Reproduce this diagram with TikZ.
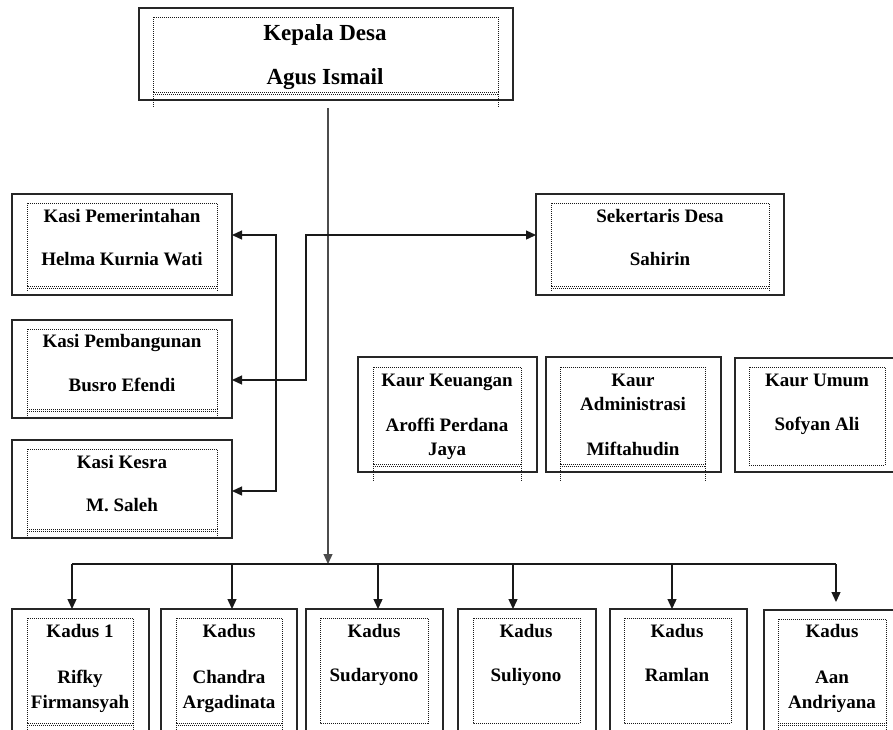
\documentclass[tikz,border=0pt]{standalone}
\usepackage{fontspec}
\setmainfont{Liberation Serif}
\usetikzlibrary{fit,arrows.meta}
\tikzset{
  outerbox/.style={draw=black!85, line width=1.5pt, inner sep=0pt, outer sep=0pt},
  dotline/.style={draw=black!90, line width=1pt, dash pattern=on 1pt off 1pt},
  txt/.style={font=\bfseries\fontsize{19}{22}\selectfont, inner sep=0pt, anchor=base},
  ttl/.style={font=\bfseries\fontsize{23}{26}\selectfont, inner sep=0pt, anchor=base},
  conn/.style={line width=1.3pt, draw=black!90},
  mainconn/.style={line width=1.2pt, draw=black!70},
  tipend/.style={-{Triangle[length=10pt,width=9pt]}},
  tipboth/.style={{Triangle[length=10pt,width=9pt]}-{Triangle[length=10pt,width=9pt]}},
}
% name, outer x1,y1,x2,y2, inner x1,y1,x2,y2
\newcommand\obox[9]{%
  \node[outerbox, fit={(#2,#3)(#4,#5)}] (#1) {};
  \draw[dotline] (#6,#7) rectangle (#8,#9);}
% inner x1, inner x2, inner bottom y, stub end y
\newcommand\dblbottom[4]{%
  \draw[dotline] (#1,{#3+2.5}) -- (#2,{#3+2.5});
  \draw[dotline] (#1,#3) -- (#1,#4);
  \draw[dotline] (#2,#3) -- (#2,#4);}
\newcommand\tline[4]{\node[txt] (#1) at (#2,{#3+6.5}) {#4};}
\begin{document}
\begin{tikzpicture}[x=1pt,y=-1pt]
\useasboundingbox (0,0) rectangle (893,729);
\fill[white] (0,0) rectangle (893,729);
\clip (0,0) rectangle (893,729);

% Kepala Desa
\obox{kades}{139}{8}{513}{100}{153}{17}{498}{92}
\dblbottom{153}{498}{92}{108}
\node[ttl] (kades1) at (325,40) {Kepala Desa};
\node[ttl] (kades2) at (325,84) {Agus Ismail};

% Kasi boxes
\obox{kpem}{12}{194}{232}{295}{27}{203}{217}{286}
\dblbottom{27}{217}{286}{292}
\tline{kpem1}{122}{216}{Kasi Pemerintahan}
\tline{kpem2}{122}{259}{Helma Kurnia Wati}

\obox{kpbg}{12}{320}{232}{418}{27}{329}{217}{409}
\dblbottom{27}{217}{409}{418}
\tline{kpbg1}{122}{341}{Kasi Pembangunan}
\tline{kpbg2}{122}{385}{Busro Efendi}

\obox{kkes}{12}{440}{232}{538}{27}{449}{217}{529}
\dblbottom{27}{217}{529}{538}
\tline{kkes1}{122}{462}{Kasi Kesra}
\tline{kkes2}{122}{505}{M. Saleh}

% Sekertaris
\obox{sek}{536}{194}{784}{295}{551}{203}{769}{286}
\dblbottom{551}{769}{286}{292}
\tline{sek1}{660}{216}{Sekertaris Desa}
\tline{sek2}{660}{259}{Sahirin}

% Kaur boxes
\obox{kkeu}{358}{357}{537}{472}{373}{367}{521}{464}
\dblbottom{373}{521}{464}{482}
\tline{kkeu1}{447}{380}{Kaur Keuangan}
\tline{kkeu2}{447}{425}{Aroffi Perdana}
\tline{kkeu3}{447}{449}{Jaya}

\obox{kadm}{546}{357}{721}{472}{560}{367}{705}{464}
\dblbottom{560}{705}{464}{482}
\tline{kadm1}{633}{380}{Kaur}
\tline{kadm2}{633}{404}{Administrasi}
\tline{kadm3}{633}{449}{Miftahudin}

\obox{kumum}{735}{358}{900}{472}{749}{367}{885}{465}
\tline{kumum1}{817}{380}{Kaur Umum}
\tline{kumum2}{817}{424}{Sofyan Ali}

% Kadus boxes
\obox{kd1}{12}{609}{149}{740}{27}{618}{133}{723}
\dblbottom{27}{133}{723}{735}
\tline{kd1a}{80}{631}{Kadus 1}
\tline{kd1b}{80}{677}{Rifky}
\tline{kd1c}{80}{702}{Firmansyah}

\obox{kd2}{161}{609}{297}{740}{176}{618}{282}{723}
\dblbottom{176}{282}{723}{735}
\tline{kd2a}{229}{631}{Kadus}
\tline{kd2b}{229}{677}{Chandra}
\tline{kd2c}{229}{702}{Argadinata}

\obox{kd3}{306}{609}{443}{740}{320}{618}{428}{723}
\tline{kd3a}{374}{631}{Kadus}
\tline{kd3b}{374}{675}{Sudaryono}

\obox{kd4}{458}{609}{596}{740}{473}{618}{580}{723}
\tline{kd4a}{526}{631}{Kadus}
\tline{kd4b}{526}{675}{Suliyono}

\obox{kd5}{610}{609}{747}{740}{624}{618}{731}{723}
\tline{kd5a}{677}{631}{Kadus}
\tline{kd5b}{677}{675}{Ramlan}

\obox{kd6}{764}{610}{905}{740}{778}{619}{886}{723}
\dblbottom{778}{886}{723}{735}
\tline{kd6a}{832}{631}{Kadus}
\tline{kd6b}{832}{677}{Aan}
\tline{kd6c}{832}{702}{Andriyana}

% Connectors
\coordinate (mtop) at (328,108);
\coordinate (mbus) at (328,564);
\draw[mainconn, tipend] (mtop) -- (mbus);
\coordinate (b1) at (72,564);
\coordinate (b2) at (232,564);
\coordinate (b3) at (378,564);
\coordinate (b4) at (513,564);
\coordinate (b5) at (672,564);
\coordinate (b6) at (836,564);
\draw[conn] (b1) -- (b6);
\draw[conn, tipend] (b1) -- (b1 |- kd1.north);
\draw[conn, tipend] (b2) -- (b2 |- kd2.north);
\draw[conn, tipend] (b3) -- (b3 |- kd3.north);
\draw[conn, tipend] (b4) -- (b4 |- kd4.north);
\draw[conn, tipend] (b5) -- (b5 |- kd5.north);
\draw[conn, tipend] (b6) -- ++(0,38) coordinate (b6end);

\coordinate (l1) at (276,235);
\coordinate (l2) at (276,491);
\draw[conn, tipboth] (l1 -| kpem.east) -- (l1) -- (l2) -- (l2 -| kkes.east);

\coordinate (r1) at (306,235);
\coordinate (r2) at (306,380);
\draw[conn, tipboth] (r2 -| kpbg.east) -- (r2) -- (r1) -- (r1 -| sek.west);
\end{tikzpicture}
\end{document}
